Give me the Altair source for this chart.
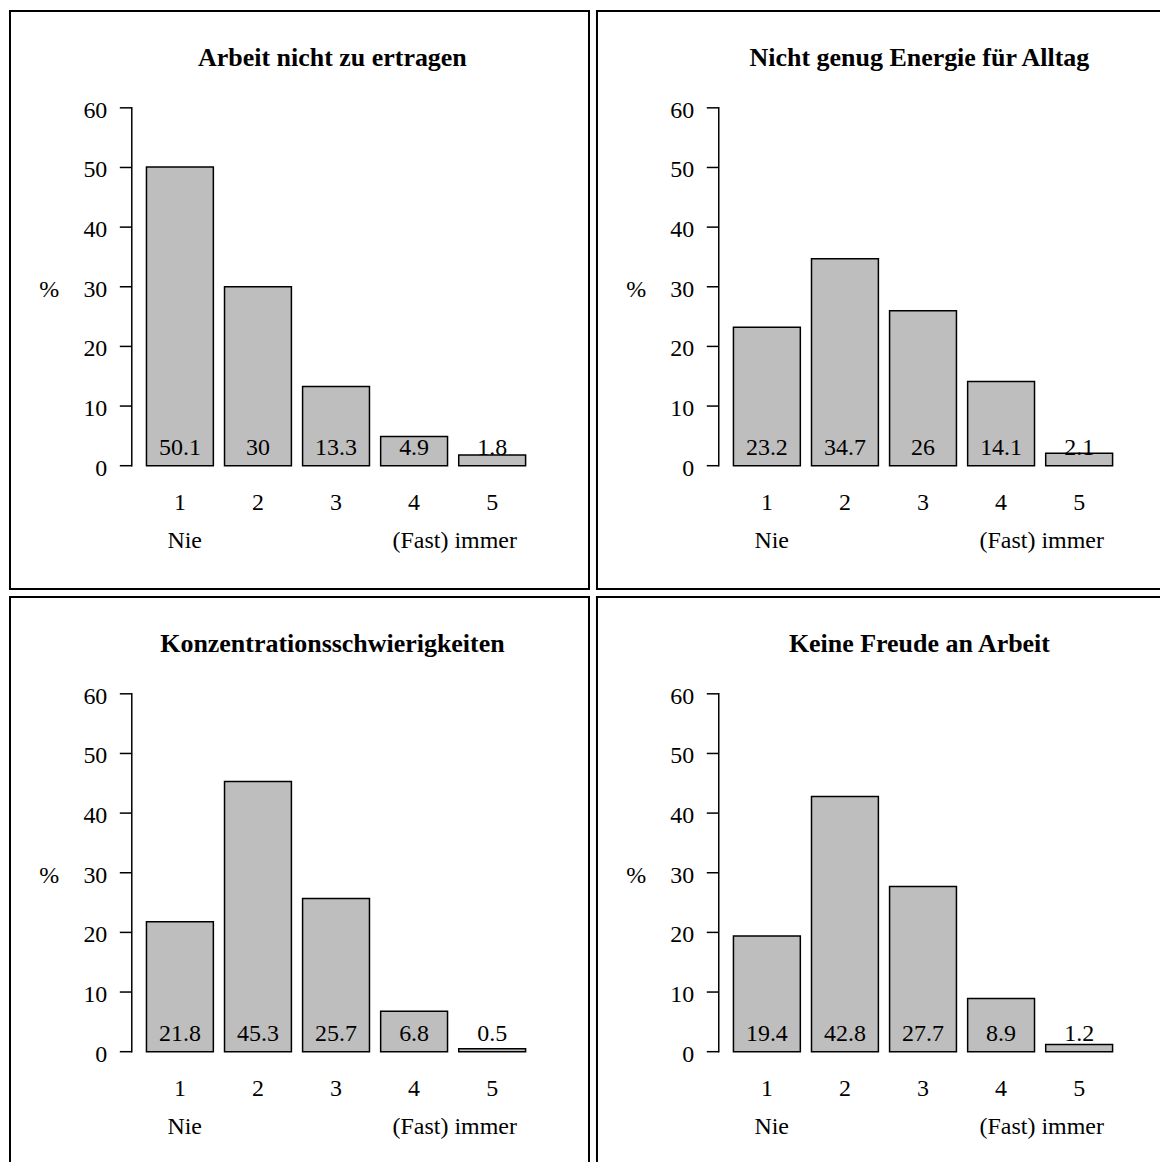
import altair as alt
import pandas as pd

titles = ["Arbeit nicht zu ertragen", "Nicht genug Energie für Alltag",
          "Konzentrationsschwierigkeiten", "Keine Freude an Arbeit"]
categories = [1, 2, 3, 4, 5]
values_1 = [50.1, 30, 13.3, 4.9, 1.8]
values_2 = [23.2, 34.7, 26, 14.1, 2.1]
values_3 = [21.8, 45.3, 25.7, 6.8, 0.5]
values_4 = [19.4, 42.8, 27.7, 8.9, 1.2]
y_ticks = [0, 10, 20, 30, 40, 50, 60]
low_label = "Nie"
high_label = "(Fast) immer"
y_label = "%"

# layout (pixels relative to each panel's top-left corner)
W_FULL, H_FULL = 582, 581
W_RIGHT, H_BOTTOM = 565, 567   # right column / bottom row are cut by the page edge
C1, PITCH = 171.2, 78.2     # centre of first bar, distance between bars
HALF_BAR = 33.5 / PITCH
Y0, PPU = 456.5, 5.975      # pixel row of 0 %, pixels per percent
FONT = "Liberation Serif"


def xd(rx):
    return 1 + (rx - C1) / PITCH


def yd(ry):
    return (Y0 - ry) / PPU


def one(text):
    return alt.Chart(pd.DataFrame({"s": [text]}))


def panel(title, vals, w, h, right_edge, bottom_edge):
    xs = alt.Scale(domain=[xd(0), xd(w)], nice=False, zero=False)
    ys = alt.Scale(domain=[yd(h), yd(0)], nice=False, zero=False)

    def X(field=None, **kw):
        if field is None:
            return alt.X(scale=xs, axis=None, **kw)
        return alt.X(field, scale=xs, axis=None, **kw)

    def Y(field=None, **kw):
        if field is None:
            return alt.Y(scale=ys, axis=None, **kw)
        return alt.Y(field, scale=ys, axis=None, **kw)

    df = pd.DataFrame({"cat": categories, "val": vals,
                       "lab": [f"{v:g}" for v in vals]})
    base = alt.Chart(df)
    bars = base.transform_calculate(
        x0=f"datum.cat - {HALF_BAR}", x1=f"datum.cat + {HALF_BAR}"
    ).mark_bar(fill="#bebebe", stroke="black", strokeWidth=1.5).encode(
        x=X("x0:Q"), x2="x1:Q", y=Y("val:Q"), y2=alt.Y2(datum=0)
    )
    txt = dict(font=FONT, fontSize=24, baseline="alphabetic", color="black")
    vlab = base.mark_text(**txt).encode(
        x=X("cat:Q"), y=Y(datum=yd(445.5)), text="lab:N")
    xnum = base.mark_text(**txt).encode(
        x=X("cat:Q"), y=Y(datum=yd(500.5)), text="cat:N")
    tdf = alt.Chart(pd.DataFrame({"t": y_ticks}))
    axis_line = one("").mark_rule(color="black", strokeWidth=1.5,
                                  strokeCap="square").encode(
        x=X(datum=xd(123)), y=Y(datum=0), y2=alt.Y2(datum=60))
    ticks = tdf.mark_rule(color="black", strokeWidth=1.5).encode(
        x=X(datum=xd(123)), x2=alt.X2(datum=xd(111)), y=Y("t:Q"))
    tlab = tdf.mark_text(align="right", dy=10, **txt).encode(
        x=X(datum=xd(98.5)), y=Y("t:Q"), text="t:N")
    pct = one(y_label).mark_text(align="center", dy=10, **txt).encode(
        x=X(datum=xd(40.3)), y=Y(datum=30), text="s:N")
    ttl = one(title).mark_text(font=FONT, fontSize=26, fontWeight="bold",
                               align="center", baseline="alphabetic",
                               color="black").encode(
        x=X(datum=xd(324)), y=Y(datum=yd(56)), text="s:N")
    lo = one(low_label).mark_text(align="center", **txt).encode(
        x=X(datum=xd(176)), y=Y(datum=yd(539)), text="s:N")
    hi = one(high_label).mark_text(align="center", **txt).encode(
        x=X(datum=xd(446.5)), y=Y(datum=yd(539)), text="s:N")

    edge = dict(color="black", strokeWidth=2)
    layers = [
        one("").mark_rule(**edge).encode(
            x=X(datum=xd(1)), y=Y(datum=yd(0)), y2=alt.Y2(datum=yd(h))),
        one("").mark_rule(**edge).encode(
            x=X(datum=xd(0)), x2=alt.X2(datum=xd(w)), y=Y(datum=yd(1))),
    ]
    if right_edge:
        layers.append(one("").mark_rule(**edge).encode(
            x=X(datum=xd(w - 1)), y=Y(datum=yd(0)), y2=alt.Y2(datum=yd(h))))
    if bottom_edge:
        layers.append(one("").mark_rule(**edge).encode(
            x=X(datum=xd(0)), x2=alt.X2(datum=xd(w)), y=Y(datum=yd(h - 1))))

    return alt.layer(bars, vlab, xnum, axis_line, ticks, tlab, pct, ttl, lo,
                     hi, *layers).properties(width=w, height=h)


p1 = panel(titles[0], values_1, W_FULL, H_FULL, True, True)
p2 = panel(titles[1], values_2, W_RIGHT, H_FULL, False, True)
p3 = panel(titles[2], values_3, W_FULL, H_BOTTOM, True, False)
p4 = panel(titles[3], values_4, W_RIGHT, H_BOTTOM, False, False)

chart = alt.concat(p1, p2, p3, p4, columns=2, spacing=6, bounds="flush",
                   align="each").properties(
    padding=0
).configure_view(strokeWidth=0, stroke=None)

chart.save("out.html", embed_options={"renderer": "svg", "actions": False})
